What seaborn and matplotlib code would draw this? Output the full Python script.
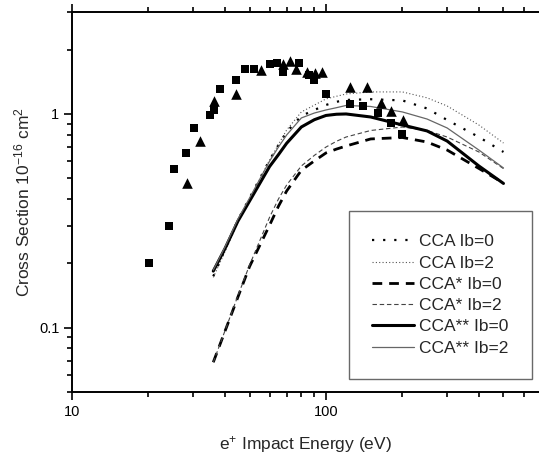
import matplotlib
matplotlib.use("Agg")
import matplotlib.pyplot as plt
import matplotlib.ticker as mticker
import seaborn as sns

# ---- data ----
sq_E = [20.1, 24.1, 25.1, 28.1, 30.1, 35.0, 36.1, 38.2, 44.1, 48.1, 52.1, 60.2,
        64.3, 67.9, 78.3, 86.0, 89.9, 100, 124, 140, 161, 180, 200]
sq_sigma = [0.20, 0.30, 0.553, 0.654, 0.857, 0.986, 1.04, 1.31, 1.44, 1.62, 1.63, 1.72,
            1.73, 1.57, 1.73, 1.52, 1.44, 1.24, 1.11, 1.09, 1.01, 0.905, 0.806]

tri_E = [28.3, 32.0, 36.3, 44.1, 55.3, 67.9, 72.2, 76.2, 84.4, 90.5, 96.7,
         124, 145, 164, 180, 201]
tri_sigma = [0.477, 0.75, 1.15, 1.24, 1.60, 1.71, 1.76, 1.62, 1.58, 1.55, 1.57,
             1.34, 1.33, 1.13, 1.03, 0.937]

E_grid = [36, 40, 45, 50, 60, 65, 70, 80, 90, 100, 110, 120, 150, 200, 250, 300, 400, 500]
cca_ib0 = [0.174, 0.231, 0.319, 0.404, 0.609, 0.716, 0.824, 0.979, 1.044, 1.102, 1.14,
           1.163, 1.172, 1.157, 1.061, 0.937, 0.78, 0.664]
cca_ib2 = [0.172, 0.226, 0.312, 0.40, 0.609, 0.72, 0.841, 1.022, 1.10, 1.176, 1.21,
           1.24, 1.268, 1.268, 1.19, 1.09, 0.888, 0.731]
ccas_ib0 = [0.0689, 0.096, 0.139, 0.193, 0.302, 0.37, 0.436, 0.545, 0.603, 0.657, 0.685,
            0.708, 0.764, 0.776, 0.739, 0.678, 0.556, 0.475]
ccas_ib2 = [0.0689, 0.0965, 0.141, 0.196, 0.329, 0.40, 0.465, 0.571, 0.64, 0.70, 0.745,
            0.78, 0.837, 0.869, 0.837, 0.78, 0.664, 0.555]
ccass_ib0 = [0.184, 0.234, 0.315, 0.391, 0.568, 0.645, 0.729, 0.869, 0.94, 0.984, 0.997,
             1.0, 0.968, 0.888, 0.833, 0.747, 0.571, 0.473]
ccass_ib2 = [0.186, 0.238, 0.322, 0.404, 0.602, 0.70, 0.797, 0.958, 1.01, 1.044, 1.07,
             1.096, 1.084, 1.022, 0.947, 0.86, 0.678, 0.559]

labels = ["CCA Ib=0", "CCA Ib=2", "CCA* Ib=0", "CCA* Ib=2", "CCA** Ib=0", "CCA** Ib=2"]
x_ticklabels = ["10", "100"]
y_ticklabels = ["0.1", "1"]

# ---- style ----
sns.set_style("ticks")
plt.rcParams["font.family"] = ["Liberation Sans", "DejaVu Sans"]
plt.rcParams["mathtext.fontset"] = "custom"
plt.rcParams["mathtext.rm"] = "Liberation Sans"
plt.rcParams["mathtext.it"] = "Liberation Sans:italic"
plt.rcParams["mathtext.bf"] = "Liberation Sans:bold"

W, H = 539, 457
fig = plt.figure(figsize=(W / 100, H / 100), dpi=100)
ax = fig.add_axes([72 / W, (H - 392) / H, (W - 72) / W, (392 - 12) / H])

curve_styles = [
    (cca_ib0, dict(color="black", lw=1.6, linestyle=(0, (1, 4)))),
    (cca_ib2, dict(color="#555555", lw=0.8, linestyle=(0, (1, 2)))),
    (ccas_ib0, dict(color="black", lw=2.0, linestyle=(0, (3.5, 2.5)))),
    (ccas_ib2, dict(color="#444444", lw=0.8, linestyle=(0, (4, 2.5)))),
    (ccass_ib0, dict(color="black", lw=2.2, linestyle="-")),
    (ccass_ib2, dict(color="#666666", lw=0.9, linestyle="-")),
]
for (vals, st), lab in zip(curve_styles, labels):
    sns.lineplot(x=E_grid, y=vals, ax=ax, label=lab, **st)

sns.scatterplot(x=sq_E, y=sq_sigma, ax=ax, marker="s", s=34, color="black",
                edgecolor="black", linewidth=0, zorder=5)
sns.scatterplot(x=tri_E, y=tri_sigma, ax=ax, marker="^", s=58, color="black",
                edgecolor="black", linewidth=0, zorder=5)

ax.set_xscale("log")
ax.set_yscale("log")
ax.set_xlim(10, 690)
ax.set_ylim(0.05, 3.0)

ax.xaxis.set_major_locator(mticker.FixedLocator([10, 100]))
ax.xaxis.set_major_formatter(mticker.FixedFormatter(x_ticklabels))
ax.xaxis.set_minor_locator(mticker.LogLocator(base=10, subs=range(2, 10), numticks=20))
ax.xaxis.set_minor_formatter(mticker.NullFormatter())
ax.yaxis.set_major_locator(mticker.FixedLocator([0.1, 1]))
ax.yaxis.set_major_formatter(mticker.FixedFormatter(y_ticklabels))
ax.yaxis.set_minor_locator(mticker.LogLocator(base=10, subs=range(2, 10), numticks=20))
ax.yaxis.set_minor_formatter(mticker.NullFormatter())

for s in ["left", "bottom", "top"]:
    ax.spines[s].set_linewidth(1.4)
    ax.spines[s].set_color("black")
ax.spines["right"].set_visible(False)

ax.tick_params(which="both", direction="out", top=True, right=False, colors="black",
               width=1.2, labelsize=10.5)
ax.tick_params(which="major", length=5.5)
ax.tick_params(which="minor", length=3.5)
ax.tick_params(axis="x", which="both", labeltop=False)

ax.set_xlabel("e$^{+}$ Impact Energy (eV)", fontsize=12.5, labelpad=11)
ax.set_ylabel("Cross Section 10$^{-16}$ cm$^{2}$", fontsize=12.5, labelpad=5)

leg = ax.legend(loc="lower right", bbox_to_anchor=(0.985, 0.034), fontsize=12.5,
                frameon=True, fancybox=False, edgecolor="#444444",
                handlelength=2.4, handletextpad=0.3, labelspacing=0.35,
                borderpad=1.35, borderaxespad=0.0)
leg.get_frame().set_linewidth(1.0)

fig.savefig("out.png", dpi=100)
